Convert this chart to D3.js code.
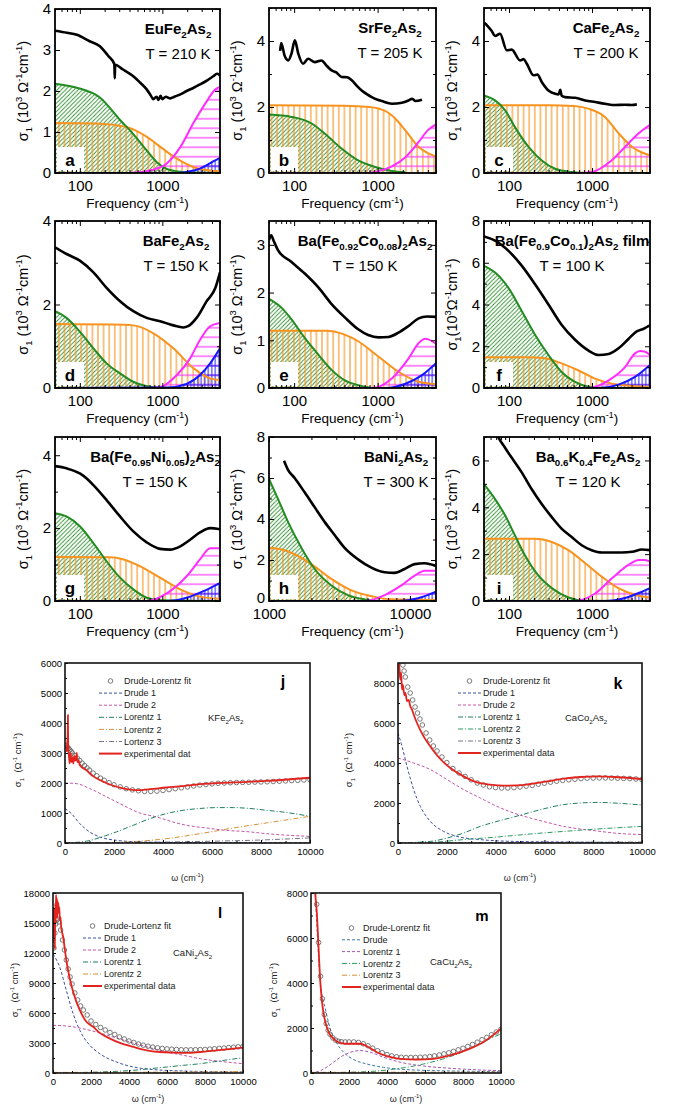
<!DOCTYPE html>
<html><head><meta charset="utf-8">
<script src="https://cdn.jsdelivr.net/npm/d3@7"></script>
<style>body{margin:0;background:#fff}svg{display:block;font-family:Arial,"Liberation Sans",sans-serif}text{white-space:pre}</style>
</head><body><svg id="c" width="673" height="1113"></svg>
<script>
// ---------- DATA: top grid (frequency cm^-1, sigma1 in 10^3 Ohm^-1 cm^-1) ----------
const letters = ['a','b','c','d','e','f','g','h','i'];
const titles = ['EuFe_{2}As_{2}','SrFe_{2}As_{2}','CaFe_{2}As_{2}','BaFe_{2}As_{2}','Ba(Fe_{0.92}Co_{0.08})_{2}As_{2}','Ba(Fe_{0.9}Co_{0.1})_{2}As_{2} film','Ba(Fe_{0.95}Ni_{0.05})_{2}As_{2}','BaNi_{2}As_{2}','Ba_{0.6}K_{0.4}Fe_{2}As_{2}'];
const temps = ['T = 210 K','T = 205 K','T = 200 K','T = 150 K','T = 150 K','T = 100 K','T = 150 K','T = 300 K','T = 120 K'];
const xMajorLow = [100,1000];
const xMinorLow = [50,60,70,80,90,200,300,400,500,600,700,800,900,2000,3000,4000,5000];
const xMajorHigh = [1000,10000];
const xMinorHigh = [2000,3000,4000,5000,6000,7000,8000,9000];

const aBlack = [[50,3.47],[70,3.42],[92,3.37],[130,3.22],[175,3.09],[220,2.86],[262,2.66],[265,2.31],[268,2.64],[330,2.53],[445,2.36],[540,2.2],[646,2.04],[720,1.9],[776,1.8],[850,1.86],[900,1.78],[950,1.88],[1000,1.8],[1100,1.86],[1250,1.82],[1400,1.86],[1700,1.93],[1970,2.0],[2400,2.08],[2860,2.16],[3500,2.26],[4150,2.36],[4600,2.42],[5000,2.38]];
const aGreen = [[50,2.18],[92,2.08],[175,1.84],[305,1.3],[445,0.95],[646,0.55],[850,0.27],[1130,0.1],[1650,0.03],[2500,0.01],[5000,0]];
const aOrange = [[50,1.22],[150,1.21],[250,1.18],[400,1.1],[650,0.88],[1000,0.6],[1500,0.35],[2500,0.13],[5000,0.04]];
const aMagenta = [[50,0],[400,0],[776,0.08],[1130,0.23],[1650,0.63],[2400,1.23],[3480,1.76],[4400,2.04],[5000,2.1]];
const aBlue = [[50,0],[1500,0],[2000,0.03],[2800,0.1],[3500,0.2],[4300,0.3],[5000,0.37]];

const bBlack = [[68,3.7],[70,3.94],[77,3.55],[85,3.41],[93,3.62],[102,4.02],[112,3.62],[128,3.31],[147,3.46],[177,3.36],[213,3.41],[245,3.25],[281,3.11],[320,3.05],[370,2.91],[430,2.9],[490,2.81],[560,2.65],[645,2.5],[750,2.38],[850,2.3],[1000,2.22],[1120,2.18],[1480,2.1],[1950,2.13],[2350,2.2],[2600,2.25],[2830,2.18],[3400,2.22]];
const bGreen = [[50,1.77],[93,1.7],[162,1.5],[234,1.19],[370,0.74],[585,0.38],[935,0.18],[1480,0.06],[2150,0.02]];
const bOrange = [[50,2.05],[400,2.04],[800,2.0],[1230,1.88],[1700,1.6],[2150,1.29],[3100,0.79],[4000,0.6],[5000,0.5]];
const bMagenta = [[50,0],[700,0],[1000,0.05],[1480,0.2],[2150,0.48],[3100,0.94],[4000,1.3],[5000,1.47]];

const cBlack = [[51,4.55],[62,4.3],[68,4.15],[78,4.22],[94,3.72],[108,3.74],[136,3.41],[150,3.45],[164,3.31],[197,2.96],[220,2.98],[248,2.76],[299,2.5],[360,2.4],[395,2.38],[415,2.52],[430,2.35],[475,2.3],[628,2.28],[830,2.2],[1090,2.15],[1430,2.1],[1900,2.06],[2500,2.07],[3000,2.06],[3470,2.08]];
const cGreen = [[50,2.35],[68,2.2],[90,1.9],[118,1.39],[172,0.79],[248,0.38],[360,0.13],[570,0.03],[830,0],[5000,0]];
const cOrange = [[50,2.05],[300,2.05],[600,2.03],[900,1.95],[1430,1.7],[2100,1.2],[3050,0.79],[4000,0.62],[5000,0.54]];
const cMagenta = [[50,0],[700,0],[990,0.03],[1720,0.38],[2500,0.79],[3600,1.19],[5000,1.46]];

const dBlack = [[50,3.37],[69,3.21],[100,3.05],[146,2.77],[211,2.4],[307,2.08],[445,1.84],[646,1.68],[940,1.6],[1360,1.5],[1800,1.45],[2050,1.48],[2600,1.68],[3450,2.08],[4400,2.4],[5000,2.77]];
const dGreen = [[50,1.84],[69,1.68],[100,1.35],[146,0.95],[211,0.59],[307,0.35],[445,0.15],[710,0.03],[940,0],[5000,0]];
const dOrange = [[50,1.53],[250,1.52],[445,1.5],[780,1.31],[1360,0.95],[2400,0.47],[3800,0.23],[5000,0.19]];
const dMagenta = [[50,0],[700,0],[940,0.02],[1500,0.31],[2170,0.71],[2860,1.15],[3800,1.48],[5000,1.56]];
const dBlue = [[50,0],[1130,0.01],[1970,0.1],[2860,0.31],[3800,0.59],[5000,0.95]];

const eBlack = [[50,3.1],[53,3.2],[57,3.08],[64,2.89],[93,2.64],[134,2.4],[195,2.11],[281,1.76],[405,1.48],[585,1.23],[770,1.11],[1020,1.06],[1350,1.07],[1780,1.16],[2350,1.3],[3100,1.46],[3900,1.5],[5000,1.49]];
const eGreen = [[50,1.87],[70,1.69],[93,1.44],[134,1.05],[195,0.7],[281,0.38],[405,0.16],[585,0.06],[930,0],[5000,0]];
const eOrange = [[50,1.2],[250,1.2],[340,1.16],[585,0.98],[1020,0.66],[1780,0.34],[3100,0.13],[5000,0.08]];
const eMagenta = [[50,0],[850,0],[1480,0.2],[2350,0.62],[3100,0.94],[3740,1.03],[4500,0.98],[5000,0.92]];
const eBlue = [[50,0],[1230,0],[2150,0.09],[3400,0.27],[5000,0.52]];

const fBlack = [[50,7.26],[68,7.06],[98,6.58],[143,5.85],[206,4.97],[299,4.0],[430,3.03],[625,2.31],[910,1.79],[1200,1.58],[1590,1.63],[2090,1.9],[2750,2.35],[3460,2.71],[4200,2.84],[5000,3.0]];
const fGreen = [[50,5.85],[68,5.53],[98,4.81],[143,3.68],[206,2.55],[299,1.58],[430,0.77],[625,0.29],[910,0.06],[1320,0],[5000,0]];
const fOrange = [[50,1.47],[172,1.47],[271,1.42],[430,1.18],[680,0.85],[1090,0.45],[1740,0.21],[3050,0.1],[5000,0.06]];
const fMagenta = [[50,0],[910,0],[1590,0.37],[2500,1.0],[3300,1.66],[3800,1.77],[4370,1.74],[5000,1.58]];
const fBlue = [[50,0],[1200,0],[2090,0.16],[3300,0.53],[5000,1.1]];

const gBlack = [[50,3.7],[69,3.64],[100,3.5],[121,3.36],[146,3.18],[211,2.77],[307,2.32],[445,1.91],[646,1.61],[940,1.43],[1240,1.41],[1650,1.5],[2170,1.68],[2860,1.88],[3800,2.0],[5000,1.97]];
const gGreen = [[50,2.41],[69,2.32],[100,2.05],[146,1.59],[211,1.09],[307,0.64],[445,0.32],[646,0.09],[940,0.02],[5000,0]];
const gOrange = [[50,1.21],[232,1.2],[340,1.14],[540,0.95],[940,0.64],[1650,0.32],[2860,0.12],[5000,0.06]];
const gMagenta = [[50,0],[646,0],[1130,0.21],[1970,0.68],[2860,1.14],[3800,1.45],[5000,1.45]];
const gBlue = [[50,0],[1130,0],[1970,0.09],[3150,0.27],[5000,0.5]];

const hBlack = [[1278,6.84],[1364,6.4],[1520,6.0],[1790,5.3],[2110,4.57],[2480,3.86],[2920,3.22],[3440,2.59],[4280,2.03],[5320,1.63],[6620,1.4],[7780,1.37],[9160,1.56],[10800,1.8],[12700,1.84],[15300,1.71]];
const hGreen = [[1000,5.95],[1160,4.97],[1364,3.86],[1700,2.59],[2110,1.56],[2770,0.76],[3630,0.29],[4770,0.08],[6270,0],[15300,0]];
const hOrange = [[1000,2.6],[1220,2.52],[1520,2.28],[1995,1.8],[2770,1.08],[3840,0.52],[5320,0.24],[7370,0.08],[15300,0.05]];
const hMagenta = [[1000,0],[4770,0],[6620,0.29],[8680,0.76],[10800,1.24],[12700,1.48],[15300,1.48]];
const hBlue = [[1000,0],[8220,0],[11400,0.13],[15300,0.45]];

const iBlack = [[66,7.4],[74,7.0],[90,6.53],[108,6.11],[143,5.48],[188,4.77],[248,4.14],[328,3.58],[433,3.08],[570,2.73],[760,2.37],[990,2.17],[1310,2.07],[1740,2.07],[2300,2.07],[3050,2.1],[4000,2.2],[5000,2.17]];
const iGreen = [[50,4.99],[68,4.35],[90,3.65],[118,2.8],[155,1.96],[223,1.11],[328,0.55],[520,0.15],[830,0.01],[5000,0]];
const iOrange = [[50,2.66],[205,2.66],[328,2.52],[520,2.17],[830,1.61],[1310,1.04],[2080,0.55],[3300,0.27],[5000,0.15]];
const iMagenta = [[50,0],[630,0],[1090,0.32],[1740,0.97],[2750,1.54],[3650,1.75],[4350,1.75],[5000,1.68]];
const iBlue = [[50,0],[1430,0],[2500,0.13],[3650,0.34],[5000,0.55]];

// ---------- DATA: bottom panels (omega cm^-1, sigma1 Ohm^-1 cm^-1) ----------
const fitOmega = [50,100,150,200,250,300,400,500,600,700,800,900,1000,1150,1300,1450,1600,1800,2000,2250,2500,2750,3000,3250,3500,3750,4000,4250,4500,4750,5000,5250,5500,5750,6000,6250,6500,6750,7000,7250,7500,7750,8000,8250,8500,8750,9000,9250,9500,9750,10000];
const jFit = [3250,3200,3150,3100,3050,3000,2920,2830,2750,2660,2580,2500,2430,2330,2240,2160,2090,2010,1940,1870,1810,1770,1740,1720,1720,1730,1750,1780,1810,1840,1870,1900,1930,1950,1970,1990,2000,2010,2015,2020,2025,2030,2035,2040,2050,2060,2070,2080,2090,2100,2110];
const kFit = [10500,10000,9300,8900,8600,8300,7800,7500,7150,6800,6500,6200,5900,5500,5150,4850,4600,4300,4020,3720,3500,3330,3160,3000,2900,2810,2770,2750,2750,2770,2800,2840,2880,2940,2990,3040,3090,3130,3160,3190,3220,3240,3250,3255,3255,3250,3240,3230,3220,3200,3170];
const lFit = [12500,14000,14900,15300,15400,15100,14300,13300,12300,11300,10400,9600,8900,8000,7300,6700,6300,5800,5200,4850,4550,4300,4050,3850,3600,3400,3200,3050,2900,2780,2680,2590,2520,2460,2410,2380,2350,2330,2320,2320,2330,2340,2360,2390,2420,2460,2500,2540,2580,2620,2660];
const mFit = [12000,11000,10000,9000,8300,7500,5800,4300,3300,2600,2200,1900,1720,1560,1460,1410,1390,1380,1380,1380,1360,1300,1210,1100,990,900,820,760,720,700,690,690,690,700,710,730,760,800,850,900,960,1030,1100,1180,1270,1370,1480,1580,1700,1820,1950];

const jExp = [[55,3040],[90,3300],[110,3600],[120,4270],[130,3200],[160,2900],[190,2650],[230,3000],[260,2700],[300,2850],[340,2650],[380,2900],[420,2750],[460,2880],[480,3000],[500,2700],[560,2750],[600,2600],[870,2430],[1140,2230],[1420,2100],[1830,1950],[2370,1820],[2920,1760],[3460,1795],[4140,1850],[4820,1895],[5500,1960],[6870,2020],[8230,2070],[10000,2175]];
const jDrude1 = [[0,1150],[260,980],[600,650],[1000,370],[1420,200],[2100,90],[2780,45],[4140,20],[10000,5]];
const jDrude2 = [[0,2000],[460,1980],[1000,1820],[1690,1540],[2370,1260],[3050,1000],[3730,870],[4410,700],[5100,570],[5780,500],[6590,420],[7410,380],[8230,310],[9050,260],[10000,220]];
const jLor1 = [[0,0],[870,60],[1420,180],[2100,370],[2780,590],[3460,810],[4140,980],[4820,1090],[5500,1150],[6190,1180],[6870,1180],[7550,1150],[8230,1090],[8910,1030],[10000,890]];
const jLor2 = [[0,0],[1420,10],[2780,45],[4140,145],[5500,310],[6870,500],[8230,670],[10000,890]];
const jLor3 = [[0,0],[2000,10],[4000,30],[6000,60],[8000,100],[10000,170]];

const kExp = [[30,9200],[60,8700],[96,8170],[130,8500],[164,7670],[200,7900],[260,7400],[300,7500],[370,7100],[437,7150],[500,6850],[574,6670],[650,6400],[779,6000],[1050,5330],[1325,4830],[1735,4200],[2145,3750],[2690,3330],[3240,3030],[3780,2920],[4330,2870],[4880,2880],[5420,2950],[6110,3080],[6790,3220],[7470,3300],[8160,3330],[8840,3300],[9520,3250],[10000,3200]];
const kDrude1 = [[0,5500],[164,4830],[370,3830],[642,2670],[915,1830],[1325,1080],[1870,580],[2420,330],[3370,170],[4740,80],[6790,50],[10000,20]];
const kDrude2 = [[0,4250],[642,4000],[1325,3670],[2010,3170],[2690,2670],[3370,2250],[4060,1830],[4740,1500],[5420,1250],[6110,1030],[6790,830],[7470,700],[8160,600],[8840,500],[10000,420]];
const kLor1 = [[0,0],[1325,80],[2010,250],[2690,500],[3370,830],[4060,1080],[4740,1300],[5420,1530],[6110,1750],[6790,1920],[7470,2000],[8160,2030],[8840,2000],[10000,1900]];
const kLor2 = [[0,0],[1325,30],[2690,170],[4060,300],[5420,450],[6790,580],[8160,700],[10000,830]];
const kLor3 = [[0,0],[5000,20],[10000,50]];

const lExp = [[20,14500],[40,16500],[60,13000],[80,15800],[100,12400],[120,17000],[140,15000],[160,17800],[180,16000],[200,17500],[220,15500],[240,17200],[260,16200],[280,17000],[300,16000],[330,16600],[360,15300],[390,15600],[430,14600],[530,13650],[700,11300],[880,9460],[1140,7620],[1410,6290],[1760,5120],[2110,4620],[2460,4010],[3000,3440],[3520,3010],[4230,2610],[4930,2270],[5630,2100],[6340,2040],[7040,2010],[7750,2100],[8630,2270],[9510,2440],[10000,2540]];
const lDrude1 = [[0,11900],[350,10600],[700,8270],[1060,5930],[1410,4270],[1940,2770],[2460,1930],[3340,1100],[4230,600],[5110,370],[6870,200],[10000,100]];
const lDrude2 = [[0,4770],[700,4700],[1580,4430],[2460,4000],[3340,3500],[4230,3000],[5110,2530],[5990,2100],[6870,1770],[7750,1430],[8630,1200],[10000,930]];
const lLor1 = [[0,0],[2460,100],[4230,270],[5110,430],[5990,600],[6870,770],[7750,930],[8630,1170],[10000,1530]];
const lLor2 = [[0,60],[5000,80],[10000,150]];

const mExp = [[180,9000],[228,8000],[315,7030],[400,5540],[490,4050],[580,3160],[753,2270],[928,1820],[1190,1520],[1540,1340],[1890,1300],[2240,1300],[2590,1300],[2940,1190],[3470,920],[4000,750],[4690,630],[5570,600],[6440,630],[7320,780],[8200,1030],[9070,1370],[10000,1970]];
const mDrude = [[100,9500],[228,7780],[490,4050],[753,2860],[1015,1970],[1370,1300],[1720,920],[2240,600],[2940,400],[3820,250],[5570,130],[10000,60]];
const mLor1 = [[0,0],[490,100],[1190,480],[1540,700],[2070,920],[2590,1000],[3120,920],[3820,700],[4690,480],[5740,330],[7320,210],[10000,100]];
const mLor2 = [[0,0],[2940,60],[4690,210],[5920,400],[6970,630],[7850,890],[8720,1220],[9420,1520],[10000,1740]];
const mLor3 = [[0,30],[10000,40]];

const jLegend = ['Drude-Lorentz fit','Drude 1','Drude 2','Lorentz 1','Lorentz 2','Lortenz 3','experimental dat'];
const kLegend = ['Drude-Lorentz fit','Drude 1','Drude 2','Lorentz 1','Lorentz 2','Lorentz 3','experimental data'];
const lLegend = ['Drude-Lortenz fit','Drude 1','Drude 2','Lorentz 1','Lorentz 2','experimental data'];
const mLegend = ['Drude-Lorentz fit','Drude','Lorentz 1','Lorentz 2','Lorentz 3','experimental data'];
const bottomCompounds = ['KFe_{2}As_{2}','CaCo_{2}As_{2}','CaNi_{2}As_{2}','CaCu_{2}As_{2}'];
const bottomLetters = ['j','k','l','m'];

// ---------- DRAWING ----------
const svg = d3.select('#c');
const defs = svg.append('defs');
const FONT = 'Arial, "Liberation Sans", sans-serif';

function pattern(id, w, h, build) {
  const p = defs.append('pattern').attr('id', id).attr('patternUnits', 'userSpaceOnUse').attr('width', w).attr('height', h);
  build(p);
}
pattern('hG', 4.2, 4.2, p => p.append('path').attr('d', 'M0,4.2L4.2,0M-1,1L1,-1M3.2,5.2L5.2,3.2').attr('stroke', '#2f8f2f').attr('stroke-width', 0.9));
pattern('hO', 5.6, 6, p => p.append('line').attr('x1', 2.8).attr('x2', 2.8).attr('y1', 0).attr('y2', 6).attr('stroke', '#f7931e').attr('stroke-width', 1.1));
pattern('hM', 6, 9.5, p => p.append('line').attr('x1', 0).attr('x2', 6).attr('y1', 4.75).attr('y2', 4.75).attr('stroke', '#ff2bff').attr('stroke-width', 1.1));
pattern('hB', 3.5, 9.5, p => { p.append('line').attr('x1', 1.75).attr('x2', 1.75).attr('y1', 0).attr('y2', 9.5).attr('stroke', '#2020ff').attr('stroke-width', 1);
  p.append('line').attr('x1', 0).attr('x2', 3.5).attr('y1', 4.75).attr('y2', 4.75).attr('stroke', '#2020ff').attr('stroke-width', 1); });

function rich(sel, str, fs, ratio) {
  ratio = ratio || 0.65;
  const parts = str.split(/(_\{[^}]*\}|\^\{[^}]*\})/).filter(s => s.length);
  let cur = 0;
  parts.forEach(s => {
    let t = s, off = 0, size = fs;
    if (s.startsWith('_{')) { t = s.slice(2, -1); off = 0.28 * fs; size = fs * ratio; }
    else if (s.startsWith('^{')) { t = s.slice(2, -1); off = -0.4 * fs; size = fs * ratio; }
    sel.append('tspan').attr('dy', (off - cur).toFixed(2)).attr('font-size', size.toFixed(2)).text(t);
    cur = off;
  });
}

function styleAxis(g, fs) {
  g.attr('font-family', FONT).attr('font-size', fs);
  g.select('.domain').remove();
  g.selectAll('line').attr('stroke', '#000').attr('stroke-width', 1);
  g.selectAll('text').attr('fill', '#000');
}

const greenC = '#228b22', orangeC = '#f7931e', magC = '#ff2bff', blueC = '#1515ff';

const topData = [
  {x0:55,x1:220,y0:9,y1:173,ymax:4,yt:[0,1,2,3,4],ym:[],hi:false,black:aBlack,comps:[aGreen,aOrange,aMagenta,aBlue],tx:178},
  {x0:269,x1:436,y0:8,y1:173,ymax:5,yt:[0,2,4],ym:[1,3,5],hi:false,black:bBlack,comps:[bGreen,bOrange,bMagenta,null],tx:390},
  {x0:484,x1:650,y0:8,y1:173,ymax:5,yt:[0,2,4],ym:[1,3,5],hi:false,black:cBlack,comps:[cGreen,cOrange,cMagenta,null],tx:606},
  {x0:55,x1:220,y0:221,y1:388,ymax:4,yt:[0,2,4],ym:[1,3],hi:false,black:dBlack,comps:[dGreen,dOrange,dMagenta,dBlue],tx:176},
  {x0:269,x1:436,y0:221,y1:388,ymax:3.5,yt:[0,1,2,3],ym:[],hi:false,black:eBlack,comps:[eGreen,eOrange,eMagenta,eBlue],tx:365},
  {x0:484,x1:650,y0:221,y1:388,ymax:8,yt:[0,2,4,6,8],ym:[1,3,5,7],hi:false,black:fBlack,comps:[fGreen,fOrange,fMagenta,fBlue],tx:572},
  {x0:55,x1:220,y0:437,y1:601,ymax:4.5,yt:[0,2,4],ym:[1,3],hi:false,black:gBlack,comps:[gGreen,gOrange,gMagenta,gBlue],tx:155},
  {x0:269,x1:436,y0:437,y1:601,ymax:8,yt:[0,2,4,6,8],ym:[1,3,5,7],hi:true,black:hBlack,comps:[hGreen,hOrange,hMagenta,hBlue],tx:396},
  {x0:484,x1:650,y0:437,y1:601,ymax:7,yt:[0,2,4,6],ym:[1,3,5,7],hi:false,black:iBlack,comps:[iGreen,iOrange,iMagenta,iBlue],tx:588}
];

topData.forEach((p, idx) => {
  const g = svg.append('g');
  const xd = p.hi ? [1000, 15300] : [50, 5000];
  const xM = p.hi ? xMajorHigh : xMajorLow;
  const xm = p.hi ? xMinorHigh : xMinorLow;
  const x = d3.scaleLog().domain(xd).range([p.x0, p.x1]);
  const y = d3.scaleLinear().domain([0, p.ymax]).range([p.y1, p.y0]);
  const cid = 'clipT' + idx;
  defs.append('clipPath').attr('id', cid).append('rect').attr('x', p.x0).attr('y', p.y0).attr('width', p.x1 - p.x0).attr('height', p.y1 - p.y0);
  const pg = g.append('g').attr('clip-path', `url(#${cid})`);
  const area = d3.area().x(d => x(d[0])).y0(y(0)).y1(d => y(d[1])).curve(d3.curveMonotoneX);
  const line = d3.line().x(d => x(d[0])).y(d => y(d[1])).curve(d3.curveMonotoneX);
  const pats = ['hG', 'hO', 'hM', 'hB'], cols = [greenC, orangeC, magC, blueC];
  p.comps.forEach((c, i) => { if (c) pg.append('path').datum(c).attr('d', area).attr('fill', `url(#${pats[i]})`); });
  [1, 0, 2, 3].forEach(i => { const c = p.comps[i]; if (c) pg.append('path').datum(c).attr('d', line).attr('fill', 'none').attr('stroke', cols[i]).attr('stroke-width', 2); });
  pg.append('path').datum(p.black).attr('d', line).attr('fill', 'none').attr('stroke', '#000').attr('stroke-width', 2.6).attr('stroke-linejoin', 'round');
  // letter box
  g.append('rect').attr('x', p.x0 + 2).attr('y', p.y1 - 26).attr('width', 27).attr('height', 24).attr('fill', '#fff');
  g.append('text').attr('x', p.x0 + 15).attr('y', p.y1 - 7).attr('text-anchor', 'middle').attr('font-family', FONT).attr('font-weight', 'bold').attr('font-size', 17).text(letters[idx]);
  // axes
  const ab = g.append('g').attr('transform', `translate(0,${p.y1})`).call(d3.axisBottom(x).tickValues(xM).tickSize(-5).tickPadding(7).tickFormat(d3.format('d')));
  styleAxis(ab, 15);
  const abm = g.append('g').attr('transform', `translate(0,${p.y1})`).call(d3.axisBottom(x).tickValues(xm).tickSize(-3).tickFormat(''));
  styleAxis(abm, 15);
  const at = g.append('g').attr('transform', `translate(0,${p.y0})`).call(d3.axisTop(x).tickValues(xM).tickSize(-5).tickFormat(''));
  styleAxis(at, 15);
  const atm = g.append('g').attr('transform', `translate(0,${p.y0})`).call(d3.axisTop(x).tickValues(xm).tickSize(-3).tickFormat(''));
  styleAxis(atm, 15);
  const al = g.append('g').attr('transform', `translate(${p.x0},0)`).call(d3.axisLeft(y).tickValues(p.yt).tickSize(-5).tickPadding(4).tickFormat(d3.format('d')));
  styleAxis(al, 15);
  if (p.hi) al.selectAll('text').filter(d => d === 0).attr('dy', '0.1em');
  const alm = g.append('g').attr('transform', `translate(${p.x0},0)`).call(d3.axisLeft(y).tickValues(p.ym.filter(v => v <= p.ymax)).tickSize(-3).tickFormat(''));
  styleAxis(alm, 15);
  const ar = g.append('g').attr('transform', `translate(${p.x1},0)`).call(d3.axisRight(y).tickValues(p.yt).tickSize(-5).tickFormat(''));
  styleAxis(ar, 15);
  const arm = g.append('g').attr('transform', `translate(${p.x1},0)`).call(d3.axisRight(y).tickValues(p.ym.filter(v => v <= p.ymax)).tickSize(-3).tickFormat(''));
  styleAxis(arm, 15);
  g.append('rect').attr('x', p.x0).attr('y', p.y0).attr('width', p.x1 - p.x0).attr('height', p.y1 - p.y0).attr('fill', 'none').attr('stroke', '#000').attr('stroke-width', 1.8);
  // titles
  const t1 = g.append('text').attr('x', p.tx).attr('y', p.y0 + 25).attr('text-anchor', 'middle').attr('font-family', FONT).attr('font-weight', 'bold').attr('font-size', 15);
  rich(t1, titles[idx], 15);
  g.append('text').attr('x', p.tx).attr('y', p.y0 + 50).attr('text-anchor', 'middle').attr('font-family', FONT).attr('font-size', 15).text(temps[idx]);
  // axis labels
  const xl = g.append('text').attr('x', (p.x0 + p.x1) / 2).attr('y', p.y1 + 35).attr('text-anchor', 'middle').attr('font-family', FONT).attr('font-size', 13.5);
  rich(xl, 'Frequency (cm^{-1})', 13.5);
  const yc = (p.y0 + p.y1) / 2;
  const yl = g.append('text').attr('transform', `translate(${p.x0 - 27},${yc}) rotate(-90)`).attr('text-anchor', 'middle').attr('font-family', FONT).attr('font-size', 14.5);
  rich(yl, idx === 5 ? 'σ_{1}(10^{3}Ω^{-1}cm^{-1})' : 'σ_{1} (10^{3} Ω^{-1}cm^{-1})', 14.5);
});

// ---------- bottom panels ----------
const cBlueD = '#3d4fa3', cPink = '#c455a8', cGreenD = '#1e7f5c', cOrangeD = '#d4913a', cGrayD = '#76768a', cGreen2 = '#2a9a60', cPurple = '#a455b4', cTeal = '#3f7aa6';
const dashD = '3,2', dashDD = '5,2,1,2';
const botData = [
  {x0:65,x1:310,y0:663,y1:843,ymax:6000,yt:[0,1000,2000,3000,4000,5000,6000],ym:[500,1500,2500,3500,4500,5500],fit:jFit,exp:jExp,
   comps:[[jDrude1,cBlueD,dashD],[jDrude2,cPink,dashD],[jLor1,cGreenD,dashDD],[jLor2,cOrangeD,dashDD],[jLor3,cGrayD,dashDD]],
   legend:jLegend,lx:99,ly:681,lw:23,ls:12.1,letter:[283,687,16],comp:[208,721],ylab:[21,760],xlabY:881},
  {x0:398,x1:642,y0:663,y1:843,ymax:9000,yt:[0,2000,4000,6000,8000],ym:[1000,3000,5000,7000,9000],fit:kFit,exp:kExp,
   comps:[[kDrude1,cBlueD,dashD],[kDrude2,cPink,dashD],[kLor1,cGreenD,dashDD],[kLor2,cGreen2,dashDD],[kLor3,cGrayD,dashDD]],
   legend:kLegend,lx:458,ly:681,lw:23,ls:12,letter:[618,689,16],comp:[565,721],ylab:[352,760],xlabY:881},
  {x0:53,x1:243,y0:893,y1:1073,ymax:18000,yt:[0,3000,6000,9000,12000,15000,18000],ym:[1500,4500,7500,10500,13500,16500],fit:lFit,exp:lExp,
   comps:[[lDrude1,cBlueD,dashD],[lDrude2,cPink,dashD],[lLor1,cGreenD,dashDD],[lLor2,cOrangeD,dashDD]],
   legend:lLegend,lx:83,ly:926,lw:19,ls:12,letter:[220,918,15],comp:[173,956],ylab:[18,990],xlabY:1102},
  {x0:311,x1:501,y0:893,y1:1073,ymax:8000,yt:[0,2000,4000,6000,8000],ym:[1000,3000,5000,7000],fit:mFit,exp:mExp,
   comps:[[mDrude,cTeal,dashD],[mLor1,cPurple,dashD],[mLor2,cGreen2,dashDD],[mLor3,cOrangeD,dashDD]],
   legend:mLegend,lx:342,ly:928,lw:19,ls:11.8,letter:[482,921,15],comp:[430,965],ylab:[277,990],xlabY:1102}
];

botData.forEach((p, idx) => {
  const g = svg.append('g');
  const x = d3.scaleLinear().domain([0, 10000]).range([p.x0, p.x1]);
  const y = d3.scaleLinear().domain([0, p.ymax]).range([p.y1, p.y0]);
  const cid = 'clipB' + idx;
  defs.append('clipPath').attr('id', cid).append('rect').attr('x', p.x0).attr('y', p.y0).attr('width', p.x1 - p.x0).attr('height', p.y1 - p.y0);
  const pg = g.append('g').attr('clip-path', `url(#${cid})`);
  const line = d3.line().x(d => x(d[0])).y(d => y(d[1])).curve(d3.curveMonotoneX);
  p.comps.forEach(c => pg.append('path').datum(c[0]).attr('d', line).attr('fill', 'none').attr('stroke', c[1]).attr('stroke-width', 1).attr('stroke-dasharray', c[2]));
  pg.selectAll('circle.fit').data(d3.zip(fitOmega, p.fit)).join('circle').attr('class', 'fit')
    .attr('cx', d => x(d[0])).attr('cy', d => y(d[1])).attr('r', 2.3).attr('fill', 'none').attr('stroke', '#5a5a5a').attr('stroke-width', 0.8);
  pg.append('path').datum(p.exp).attr('d', line).attr('fill', 'none').attr('stroke', '#e3241e').attr('stroke-width', 1.8).attr('stroke-linejoin', 'round');
  // axes
  const ab = g.append('g').attr('transform', `translate(0,${p.y1})`).call(d3.axisBottom(x).tickValues([0, 2000, 4000, 6000, 8000, 10000]).tickSize(-3).tickPadding(5).tickFormat(d3.format('d')));
  styleAxis(ab, 9.5);
  const abm = g.append('g').attr('transform', `translate(0,${p.y1})`).call(d3.axisBottom(x).tickValues([1000, 3000, 5000, 7000, 9000]).tickSize(-2).tickFormat(''));
  styleAxis(abm, 9.5);
  const al = g.append('g').attr('transform', `translate(${p.x0},0)`).call(d3.axisLeft(y).tickValues(p.yt).tickSize(-3).tickPadding(3).tickFormat(d3.format('d')));
  styleAxis(al, 9.5);
  const alm = g.append('g').attr('transform', `translate(${p.x0},0)`).call(d3.axisLeft(y).tickValues(p.ym.filter(v => v < p.ymax)).tickSize(-2).tickFormat(''));
  styleAxis(alm, 9.5);
  g.append('rect').attr('x', p.x0).attr('y', p.y0).attr('width', p.x1 - p.x0).attr('height', p.y1 - p.y0).attr('fill', 'none').attr('stroke', '#111').attr('stroke-width', 1.6);
  // legend
  const items = [{type: 'c'}].concat(p.comps.map(c => ({type: 'l', color: c[1], dash: c[2]}))).concat([{type: 'r'}]);
  items.forEach((it, i) => {
    const ly = p.ly + i * p.ls;
    if (it.type === 'c') g.append('circle').attr('cx', p.lx + p.lw / 2).attr('cy', ly).attr('r', 2.3).attr('fill', 'none').attr('stroke', '#5a5a5a').attr('stroke-width', 0.8);
    else if (it.type === 'l') g.append('line').attr('x1', p.lx).attr('x2', p.lx + p.lw).attr('y1', ly).attr('y2', ly).attr('stroke', it.color).attr('stroke-width', 1).attr('stroke-dasharray', it.dash);
    else g.append('line').attr('x1', p.lx).attr('x2', p.lx + p.lw).attr('y1', ly).attr('y2', ly).attr('stroke', '#e3241e').attr('stroke-width', 2);
    g.append('text').attr('x', p.lx + p.lw + 2).attr('y', ly).attr('dy', '0.35em').attr('font-family', FONT).attr('font-size', 9).attr('fill', '#222').text(p.legend[i]);
  });
  g.append('text').attr('x', p.letter[0]).attr('y', p.letter[1]).attr('text-anchor', 'middle').attr('font-family', FONT).attr('font-weight', 'bold').attr('font-size', p.letter[2]).text(bottomLetters[idx]);
  const ct = g.append('text').attr('x', p.comp[0]).attr('y', p.comp[1]).attr('font-family', FONT).attr('font-size', 9.5).attr('fill', '#222');
  rich(ct, bottomCompounds[idx], 9.5);
  const yl = g.append('text').attr('transform', `translate(${p.ylab[0]},${p.ylab[1]}) rotate(-90)`).attr('text-anchor', 'middle').attr('font-family', FONT).attr('font-size', 9.5).attr('fill', '#222');
  rich(yl, 'σ_{1}  (Ω^{-1} cm^{-1})', 9.5);
  const xl = g.append('text').attr('x', (p.x0 + p.x1) / 2).attr('y', p.xlabY).attr('text-anchor', 'middle').attr('font-family', FONT).attr('font-size', 9).attr('fill', '#222');
  rich(xl, 'ω (cm^{-1})', 9);
});
</script></body></html>
